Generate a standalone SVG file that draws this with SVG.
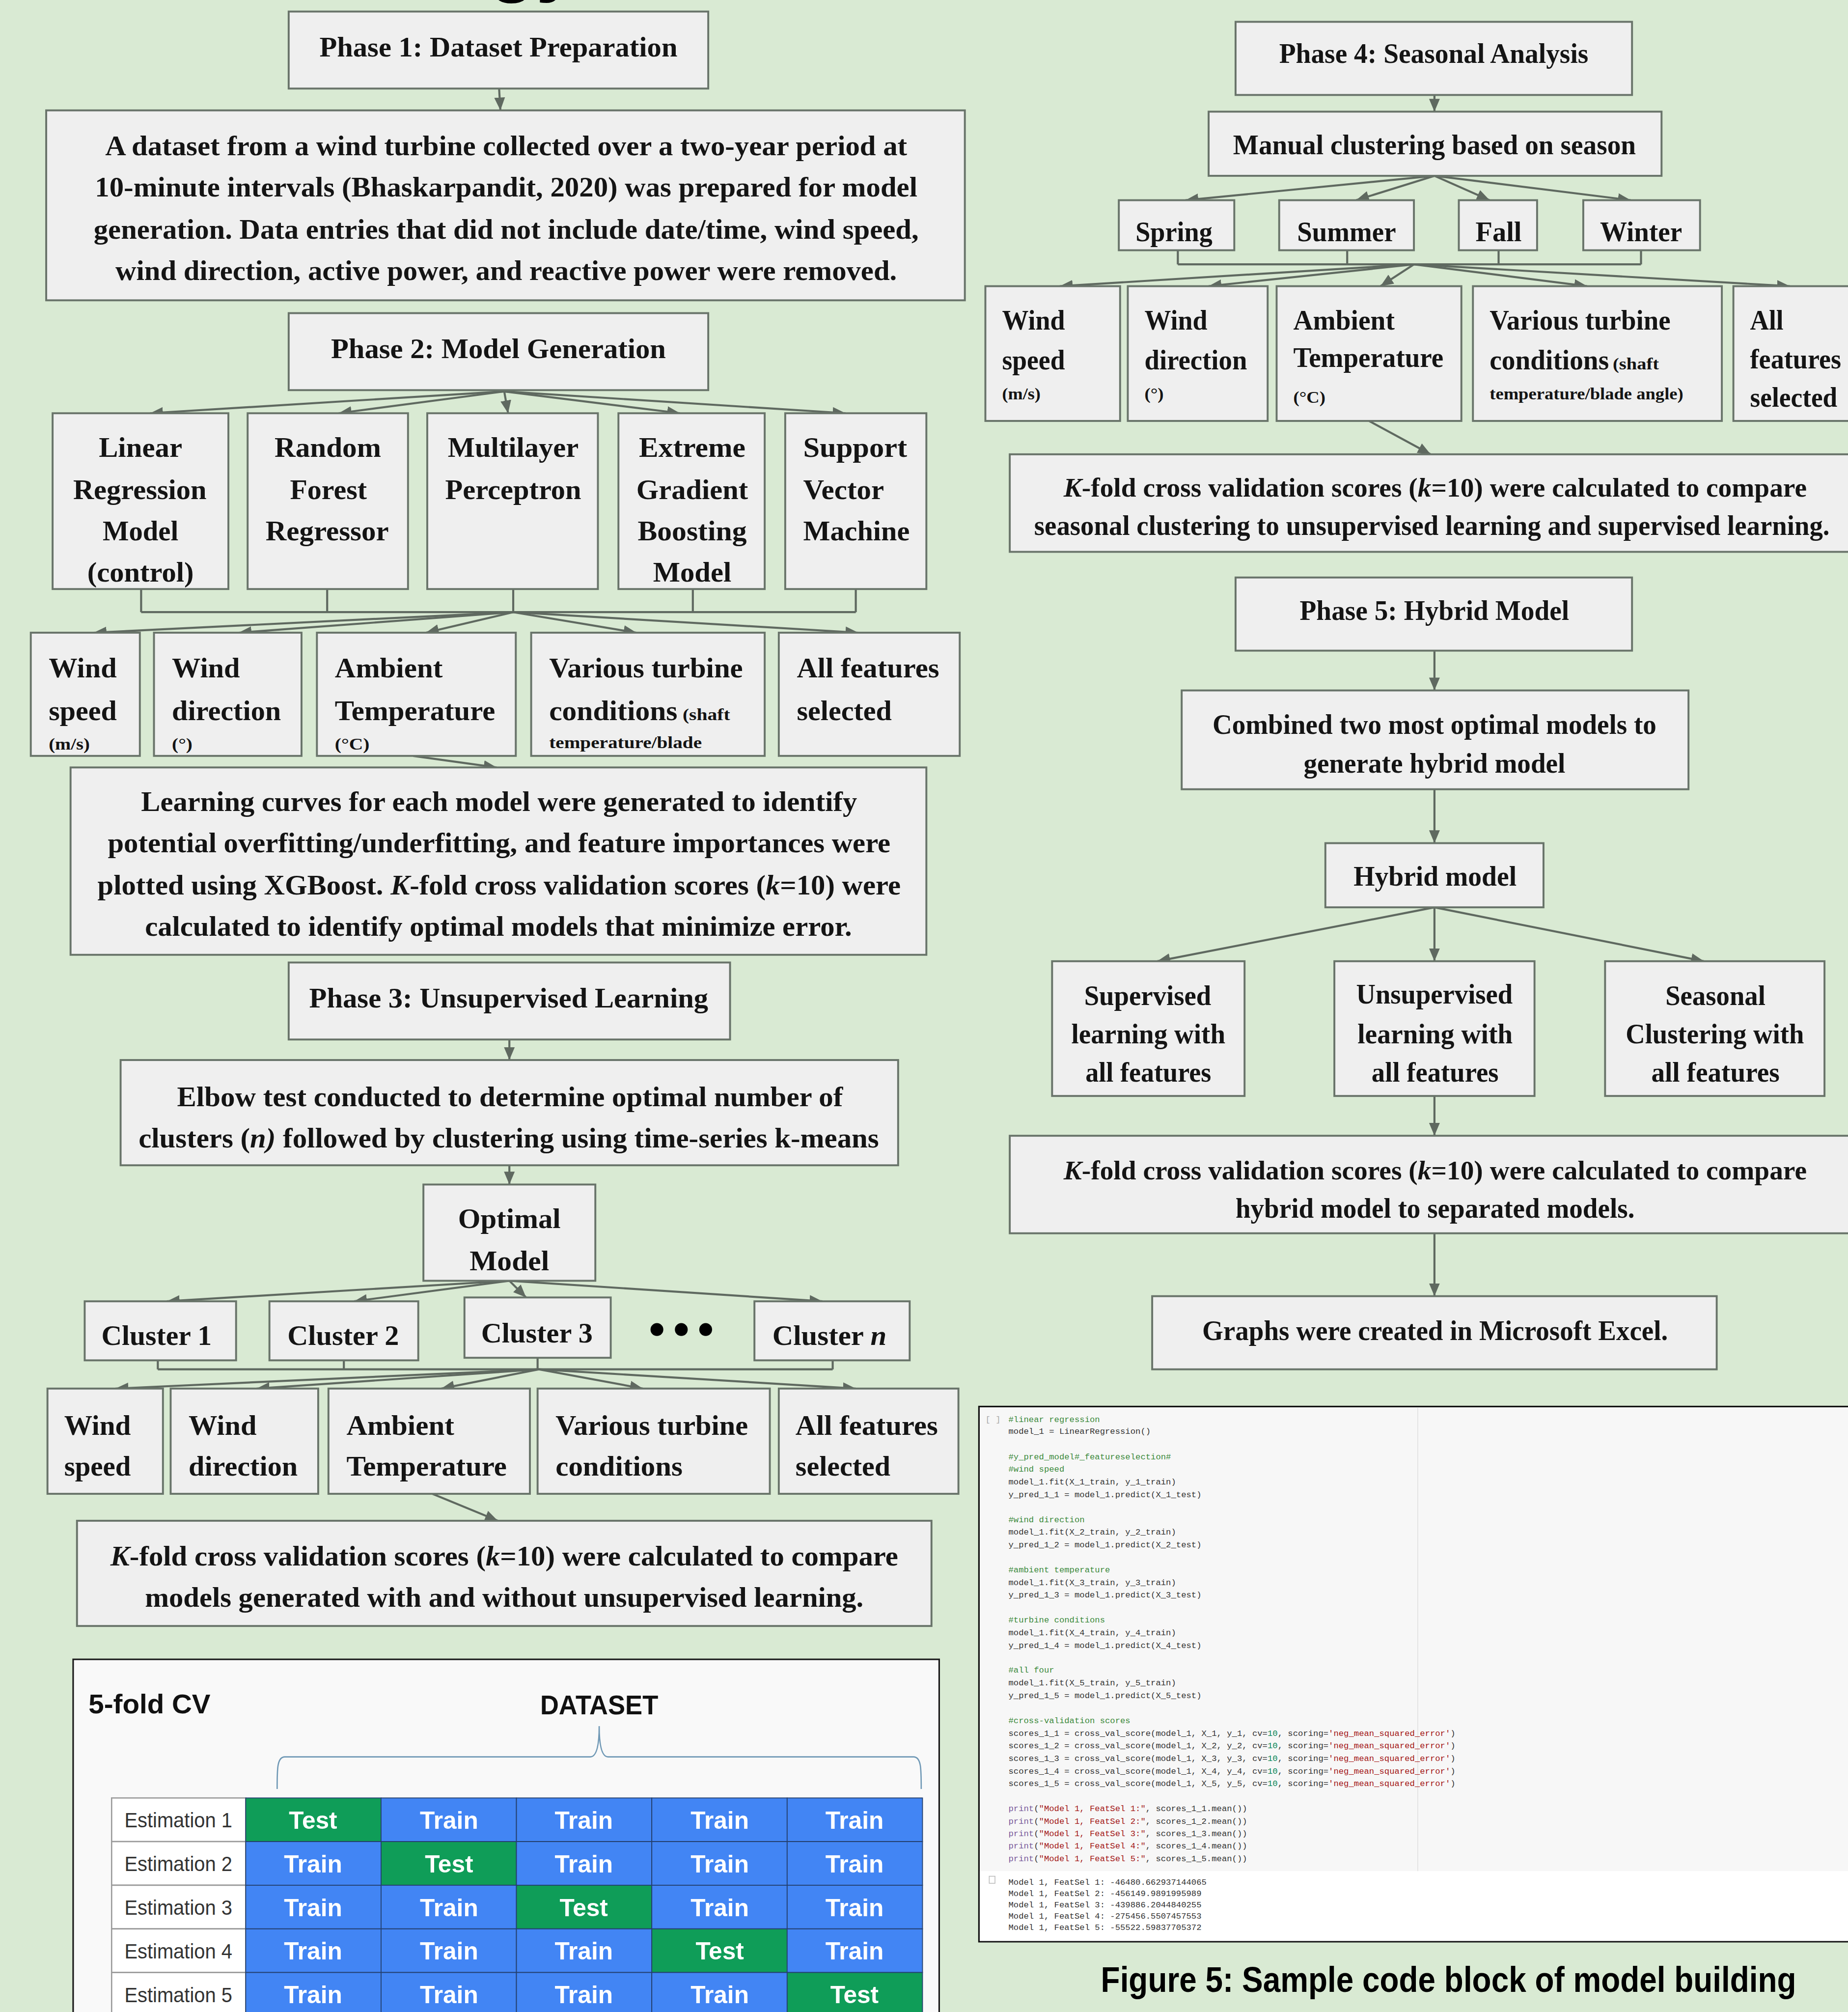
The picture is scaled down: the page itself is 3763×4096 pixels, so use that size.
<svg xmlns="http://www.w3.org/2000/svg" width="3763" height="4096" viewBox="0 0 3763 4096">
<defs>
<style>
.bx{fill:#efefef;stroke:#69746a;stroke-width:1.5}
.t{font-family:"Liberation Serif",serif;font-weight:bold;font-size:22px;fill:#141414}
.sm{font-size:13px}
.it{font-style:italic}
.cn{stroke:#5f6960;stroke-width:1.6;fill:none;marker-end:url(#ah)}
.ln{stroke:#5f6960;stroke-width:1.6;fill:none}
.est{font-family:"Liberation Sans",Arial,sans-serif;font-size:16px;fill:#333}
.cell{font-family:"Liberation Sans",Arial,sans-serif;font-size:19px;font-weight:bold;fill:#fff;text-anchor:middle}
.code{font-family:"Liberation Mono","DejaVu Sans Mono",monospace;font-size:6.6px;fill:#333}
.cm{fill:#3c8a3c}
.st{fill:#a31515}
.nu{fill:#098658}
.pr{fill:#7a5a9a}
</style>
<marker id="ah" markerUnits="userSpaceOnUse" markerWidth="10" markerHeight="10" viewBox="0 0 10 10" refX="10" refY="5" orient="auto">
<path d="M0,0.8 L10,5 L0,9.2 Z" fill="#5f6960"/>
</marker>
</defs>
<rect x="0" y="0" width="3763" height="4096" fill="#d9ead3"/>
<g transform="scale(2.6126)">
<text x="381" y="-10" font-family="Liberation Sans,Arial,sans-serif" font-weight="bold" font-size="60" fill="#000">gy</text>

<g id="connectors">
<path class="cn" d="M389,69 L390,86"/>
<path class="cn" d="M393,305 L117,322"/>
<path class="cn" d="M393,305 L264,322"/>
<path class="cn" d="M393,305 L396,322"/>
<path class="cn" d="M393,305 L530,322"/>
<path class="cn" d="M393,305 L659,322"/>
<path class="ln" d="M110,459 V477 M255,459 V477 M400,459 V477 M540,459 V477 M667,459 V477 M110,477 H667"/>
<path class="cn" d="M400,477 L73,493"/>
<path class="cn" d="M400,477 L186,493"/>
<path class="cn" d="M400,477 L332,493"/>
<path class="cn" d="M400,477 L496,493"/>
<path class="cn" d="M400,477 L669,493"/>
<path class="cn" d="M322,589 L387,598"/>
<path class="cn" d="M397,810 L397,826"/>
<path class="cn" d="M397,908 L397,923"/>
<path class="cn" d="M397,998 L130,1014"/>
<path class="cn" d="M397,998 L276,1014"/>
<path class="cn" d="M397,998 L410,1011"/>
<path class="cn" d="M397,998 L641,1014"/>
<path class="ln" d="M123,1060 V1067 M268,1060 V1067 M419,1058 V1067 M649,1060 V1067 M123,1067 H649"/>
<path class="cn" d="M420,1067 L90,1082"/>
<path class="cn" d="M420,1067 L200,1082"/>
<path class="cn" d="M420,1067 L344,1082"/>
<path class="cn" d="M420,1067 L501,1082"/>
<path class="cn" d="M420,1067 L667,1082"/>
<path class="cn" d="M337,1164 L388,1185"/>
<path class="cn" d="M1118,74 L1118,87"/>
<path class="cn" d="M1118,137 L924,156"/>
<path class="cn" d="M1118,137 L1057,156"/>
<path class="cn" d="M1118,137 L1161,156"/>
<path class="cn" d="M1118,137 L1271,156"/>
<path class="ln" d="M918,195 V206 M1050,195 V206 M1168,195 V206 M1279,195 V206 M918,206 H1279"/>
<path class="cn" d="M1102,206 L826,223"/>
<path class="cn" d="M1102,206 L942,223"/>
<path class="cn" d="M1102,206 L1076,223"/>
<path class="cn" d="M1102,206 L1237,223"/>
<path class="cn" d="M1102,206 L1395,223"/>
<path class="cn" d="M1067,328 L1115,354"/>
<path class="cn" d="M1118,507 L1118,538"/>
<path class="cn" d="M1118,615 L1118,657"/>
<path class="cn" d="M1118,707 L902,749"/>
<path class="cn" d="M1118,707 L1118,749"/>
<path class="cn" d="M1118,707 L1328,749"/>
<path class="cn" d="M1118,854 L1118,885"/>
<path class="cn" d="M1118,961 L1118,1010"/>
</g>

<g id="phase1"><rect class="bx" x="225" y="9" width="327" height="60"/>
<text class="t" x="249" y="44" textLength="279" lengthAdjust="spacingAndGlyphs">Phase 1: Dataset Preparation</text></g>
<g id="dataset"><rect class="bx" x="36" y="86" width="716" height="148"/>
<text class="t" x="82" y="121" textLength="625" lengthAdjust="spacingAndGlyphs">A dataset from a wind turbine collected over a two-year period at</text>
<text class="t" x="74" y="153" textLength="641" lengthAdjust="spacingAndGlyphs">10-minute intervals (Bhaskarpandit, 2020) was prepared for model</text>
<text class="t" x="73" y="186" textLength="643" lengthAdjust="spacingAndGlyphs">generation. Data entries that did not include date/time, wind speed,</text>
<text class="t" x="90" y="218" textLength="609" lengthAdjust="spacingAndGlyphs">wind direction, active power, and reactive power were removed.</text></g>
<g id="phase2"><rect class="bx" x="225" y="244" width="327" height="60"/>
<text class="t" x="258" y="279" textLength="261" lengthAdjust="spacingAndGlyphs">Phase 2: Model Generation</text></g>
<g id="m_linear"><rect class="bx" x="41" y="322" width="137" height="137"/>
<text class="t" x="77" y="356" textLength="65" lengthAdjust="spacingAndGlyphs">Linear</text>
<text class="t" x="57" y="389" textLength="104" lengthAdjust="spacingAndGlyphs">Regression</text>
<text class="t" x="80" y="421" textLength="59" lengthAdjust="spacingAndGlyphs">Model</text>
<text class="t" x="68" y="453" textLength="83" lengthAdjust="spacingAndGlyphs">(control)</text></g>
<g id="m_rf"><rect class="bx" x="193" y="322" width="125" height="137"/>
<text class="t" x="214" y="356" textLength="83" lengthAdjust="spacingAndGlyphs">Random</text>
<text class="t" x="226" y="389" textLength="60" lengthAdjust="spacingAndGlyphs">Forest</text>
<text class="t" x="207" y="421" textLength="96" lengthAdjust="spacingAndGlyphs">Regressor</text></g>
<g id="m_mlp"><rect class="bx" x="333" y="322" width="133" height="137"/>
<text class="t" x="349" y="356" textLength="102" lengthAdjust="spacingAndGlyphs">Multilayer</text>
<text class="t" x="347" y="389" textLength="106" lengthAdjust="spacingAndGlyphs">Perceptron</text></g>
<g id="m_xgb"><rect class="bx" x="482" y="322" width="114" height="137"/>
<text class="t" x="498" y="356" textLength="83" lengthAdjust="spacingAndGlyphs">Extreme</text>
<text class="t" x="496" y="389" textLength="87" lengthAdjust="spacingAndGlyphs">Gradient</text>
<text class="t" x="497" y="421" textLength="85" lengthAdjust="spacingAndGlyphs">Boosting</text>
<text class="t" x="509" y="453" textLength="61" lengthAdjust="spacingAndGlyphs">Model</text></g>
<g id="m_svm"><rect class="bx" x="612" y="322" width="110" height="137"/>
<text class="t" x="626" y="356" textLength="81" lengthAdjust="spacingAndGlyphs">Support</text>
<text class="t" x="626" y="389" textLength="63" lengthAdjust="spacingAndGlyphs">Vector</text>
<text class="t" x="626" y="421" textLength="83" lengthAdjust="spacingAndGlyphs">Machine</text></g>

<g id="f1_ws"><rect class="bx" x="24" y="493" width="85" height="96"/>
<text class="t" x="38" y="528" textLength="53" lengthAdjust="spacingAndGlyphs">Wind</text>
<text class="t" x="38" y="561" textLength="53" lengthAdjust="spacingAndGlyphs">speed</text>
<text class="t sm" x="38" y="584" textLength="32" lengthAdjust="spacingAndGlyphs">(m/s)</text></g>
<g id="f1_wd"><rect class="bx" x="120" y="493" width="115" height="96"/>
<text class="t" x="134" y="528" textLength="53" lengthAdjust="spacingAndGlyphs">Wind</text>
<text class="t" x="134" y="561" textLength="85" lengthAdjust="spacingAndGlyphs">direction</text>
<text class="t sm" x="134" y="584" textLength="16" lengthAdjust="spacingAndGlyphs">(°)</text></g>
<g id="f1_at"><rect class="bx" x="247" y="493" width="155" height="96"/>
<text class="t" x="261" y="528" textLength="84" lengthAdjust="spacingAndGlyphs">Ambient</text>
<text class="t" x="261" y="561" textLength="125" lengthAdjust="spacingAndGlyphs">Temperature</text>
<text class="t sm" x="261" y="584" textLength="27" lengthAdjust="spacingAndGlyphs">(°C)</text></g>
<g id="f1_vt"><rect class="bx" x="414" y="493" width="182" height="96"/>
<text class="t" x="428" y="528" textLength="151" lengthAdjust="spacingAndGlyphs">Various turbine</text>
<text class="t" x="428" y="561" textLength="100" lengthAdjust="spacingAndGlyphs">conditions</text>
<text class="t sm" x="532" y="561" textLength="37" lengthAdjust="spacingAndGlyphs">(shaft</text>
<text class="t sm" x="428" y="583" textLength="119" lengthAdjust="spacingAndGlyphs">temperature/blade</text></g>
<g id="f1_all"><rect class="bx" x="607" y="493" width="141" height="96"/>
<text class="t" x="621" y="528" textLength="111" lengthAdjust="spacingAndGlyphs">All features</text>
<text class="t" x="621" y="561" textLength="74" lengthAdjust="spacingAndGlyphs">selected</text></g>

<g id="learning"><rect class="bx" x="55" y="598" width="667" height="146"/>
<text class="t" x="110" y="632" textLength="558" lengthAdjust="spacingAndGlyphs">Learning curves for each model were generated to identify</text>
<text class="t" x="84" y="664" textLength="610" lengthAdjust="spacingAndGlyphs">potential overfitting/underfitting, and feature importances were</text>
<text class="t" x="76" y="697" textLength="626" lengthAdjust="spacingAndGlyphs">plotted using XGBoost. <tspan class="it">K</tspan>-fold cross validation scores (<tspan class="it">k</tspan>=10) were</text>
<text class="t" x="113" y="729" textLength="551" lengthAdjust="spacingAndGlyphs">calculated to identify optimal models that minimize error.</text></g>
<g id="phase3"><rect class="bx" x="225" y="750" width="344" height="60"/>
<text class="t" x="241" y="785" textLength="311" lengthAdjust="spacingAndGlyphs">Phase 3: Unsupervised Learning</text></g>
<g id="elbow"><rect class="bx" x="94" y="826" width="606" height="82"/>
<text class="t" x="138" y="862" textLength="519" lengthAdjust="spacingAndGlyphs">Elbow test conducted to determine optimal number of</text>
<text class="t" x="108" y="894" textLength="577" lengthAdjust="spacingAndGlyphs">clusters (<tspan class="it">n)</tspan> followed by clustering using time-series k-means</text></g>
<g id="optimal"><rect class="bx" x="330" y="923" width="134" height="75"/>
<text class="t" x="357" y="957" textLength="80" lengthAdjust="spacingAndGlyphs">Optimal</text>
<text class="t" x="366" y="990" textLength="62" lengthAdjust="spacingAndGlyphs">Model</text></g>
<g id="cluster1"><rect class="bx" x="66" y="1014" width="118" height="46"/>
<text class="t" x="79" y="1048" textLength="86" lengthAdjust="spacingAndGlyphs">Cluster 1</text></g>
<g id="cluster2"><rect class="bx" x="210" y="1014" width="116" height="46"/>
<text class="t" x="224" y="1048" textLength="87" lengthAdjust="spacingAndGlyphs">Cluster 2</text></g>
<g id="cluster3"><rect class="bx" x="362" y="1011" width="114" height="47"/>
<text class="t" x="375" y="1046" textLength="87" lengthAdjust="spacingAndGlyphs">Cluster 3</text></g>
<g id="dots"><circle cx="512" cy="1036" r="5" fill="#000"/><circle cx="531" cy="1036" r="5" fill="#000"/><circle cx="550" cy="1036" r="5" fill="#000"/></g>
<g id="clustern"><rect class="bx" x="588" y="1014" width="121" height="46"/>
<text class="t" x="602" y="1048" textLength="89" lengthAdjust="spacingAndGlyphs">Cluster <tspan class="it">n</tspan></text></g>

<g id="f2_ws"><rect class="bx" x="37" y="1082" width="90" height="82"/>
<text class="t" x="50" y="1118" textLength="52" lengthAdjust="spacingAndGlyphs">Wind</text>
<text class="t" x="50" y="1150" textLength="52" lengthAdjust="spacingAndGlyphs">speed</text></g>
<g id="f2_wd"><rect class="bx" x="133" y="1082" width="115" height="82"/>
<text class="t" x="147" y="1118" textLength="53" lengthAdjust="spacingAndGlyphs">Wind</text>
<text class="t" x="147" y="1150" textLength="85" lengthAdjust="spacingAndGlyphs">direction</text></g>
<g id="f2_at"><rect class="bx" x="256" y="1082" width="157" height="82"/>
<text class="t" x="270" y="1118" textLength="84" lengthAdjust="spacingAndGlyphs">Ambient</text>
<text class="t" x="270" y="1150" textLength="125" lengthAdjust="spacingAndGlyphs">Temperature</text></g>
<g id="f2_vt"><rect class="bx" x="419" y="1082" width="181" height="82"/>
<text class="t" x="433" y="1118" textLength="150" lengthAdjust="spacingAndGlyphs">Various turbine</text>
<text class="t" x="433" y="1150" textLength="99" lengthAdjust="spacingAndGlyphs">conditions</text></g>
<g id="f2_all"><rect class="bx" x="607" y="1082" width="140" height="82"/>
<text class="t" x="620" y="1118" textLength="111" lengthAdjust="spacingAndGlyphs">All features</text>
<text class="t" x="620" y="1150" textLength="74" lengthAdjust="spacingAndGlyphs">selected</text></g>
<g id="kfold_left"><rect class="bx" x="60" y="1185" width="666" height="82"/>
<text class="t" x="86" y="1220" textLength="614" lengthAdjust="spacingAndGlyphs"><tspan class="it">K</tspan>-fold cross validation scores (<tspan class="it">k</tspan>=10) were calculated to compare</text>
<text class="t" x="113" y="1252" textLength="560" lengthAdjust="spacingAndGlyphs">models generated with and without unsupervised learning.</text></g>

<g id="cv_panel">
<rect x="57" y="1293" width="675" height="290" fill="#f9f9f9" stroke="#1a1a1a" stroke-width="1.2"/>
<text x="69" y="1335" font-family="Liberation Sans,Arial,sans-serif" font-weight="bold" font-size="21" fill="#111" textLength="95" lengthAdjust="spacingAndGlyphs">5-fold CV</text>
<text x="421" y="1336" font-family="Liberation Sans,Arial,sans-serif" font-weight="bold" font-size="21" fill="#111" textLength="92" lengthAdjust="spacingAndGlyphs">DATASET</text>
<path d="M216,1394 C216,1378 216,1369 222,1369 L460,1369 C465,1369 467,1360 467,1345 C467,1360 469,1369 474,1369 L712,1369 C718,1369 718,1378 718,1394" fill="none" stroke="#6f98b5" stroke-width="1"/>
<g stroke="#9a9a9a" stroke-width="1" fill="#fff">
<rect x="87" y="1401" width="104.5" height="34"/><rect x="87" y="1435" width="104.5" height="34"/><rect x="87" y="1469" width="104.5" height="34"/><rect x="87" y="1503" width="104.5" height="34"/><rect x="87" y="1537" width="104.5" height="34"/>
</g>
<g stroke="#24406e" stroke-width="0.7">
<rect x="191.5" y="1401" width="105.5" height="34" fill="#0f9d58"/><rect x="297" y="1401" width="105.5" height="34" fill="#4285f4"/><rect x="402.5" y="1401" width="105.5" height="34" fill="#4285f4"/><rect x="508" y="1401" width="105.5" height="34" fill="#4285f4"/><rect x="613.5" y="1401" width="105.5" height="34" fill="#4285f4"/>
<rect x="191.5" y="1435" width="105.5" height="34" fill="#4285f4"/><rect x="297" y="1435" width="105.5" height="34" fill="#0f9d58"/><rect x="402.5" y="1435" width="105.5" height="34" fill="#4285f4"/><rect x="508" y="1435" width="105.5" height="34" fill="#4285f4"/><rect x="613.5" y="1435" width="105.5" height="34" fill="#4285f4"/>
<rect x="191.5" y="1469" width="105.5" height="34" fill="#4285f4"/><rect x="297" y="1469" width="105.5" height="34" fill="#4285f4"/><rect x="402.5" y="1469" width="105.5" height="34" fill="#0f9d58"/><rect x="508" y="1469" width="105.5" height="34" fill="#4285f4"/><rect x="613.5" y="1469" width="105.5" height="34" fill="#4285f4"/>
<rect x="191.5" y="1503" width="105.5" height="34" fill="#4285f4"/><rect x="297" y="1503" width="105.5" height="34" fill="#4285f4"/><rect x="402.5" y="1503" width="105.5" height="34" fill="#4285f4"/><rect x="508" y="1503" width="105.5" height="34" fill="#0f9d58"/><rect x="613.5" y="1503" width="105.5" height="34" fill="#4285f4"/>
<rect x="191.5" y="1537" width="105.5" height="34" fill="#4285f4"/><rect x="297" y="1537" width="105.5" height="34" fill="#4285f4"/><rect x="402.5" y="1537" width="105.5" height="34" fill="#4285f4"/><rect x="508" y="1537" width="105.5" height="34" fill="#4285f4"/><rect x="613.5" y="1537" width="105.5" height="34" fill="#0f9d58"/>
</g>
<text class="est" x="97" y="1424" textLength="84" lengthAdjust="spacingAndGlyphs">Estimation 1</text>
<text class="est" x="97" y="1458" textLength="84" lengthAdjust="spacingAndGlyphs">Estimation 2</text>
<text class="est" x="97" y="1492" textLength="84" lengthAdjust="spacingAndGlyphs">Estimation 3</text>
<text class="est" x="97" y="1526" textLength="84" lengthAdjust="spacingAndGlyphs">Estimation 4</text>
<text class="est" x="97" y="1560" textLength="84" lengthAdjust="spacingAndGlyphs">Estimation 5</text>
<text class="cell" x="244" y="1425">Test</text><text class="cell" x="350" y="1425">Train</text><text class="cell" x="455" y="1425">Train</text><text class="cell" x="561" y="1425">Train</text><text class="cell" x="666" y="1425">Train</text>
<text class="cell" x="244" y="1459">Train</text><text class="cell" x="350" y="1459">Test</text><text class="cell" x="455" y="1459">Train</text><text class="cell" x="561" y="1459">Train</text><text class="cell" x="666" y="1459">Train</text>
<text class="cell" x="244" y="1493">Train</text><text class="cell" x="350" y="1493">Train</text><text class="cell" x="455" y="1493">Test</text><text class="cell" x="561" y="1493">Train</text><text class="cell" x="666" y="1493">Train</text>
<text class="cell" x="244" y="1527">Train</text><text class="cell" x="350" y="1527">Train</text><text class="cell" x="455" y="1527">Train</text><text class="cell" x="561" y="1527">Test</text><text class="cell" x="666" y="1527">Train</text>
<text class="cell" x="244" y="1561">Train</text><text class="cell" x="350" y="1561">Train</text><text class="cell" x="455" y="1561">Train</text><text class="cell" x="561" y="1561">Train</text><text class="cell" x="666" y="1561">Test</text>
</g>

<g id="phase4"><rect class="bx" x="963" y="17" width="309" height="57"/>
<text class="t" x="997" y="49" textLength="241" lengthAdjust="spacingAndGlyphs">Phase 4: Seasonal Analysis</text></g>
<g id="manual"><rect class="bx" x="942" y="87" width="353" height="50"/>
<text class="t" x="961" y="120" textLength="314" lengthAdjust="spacingAndGlyphs">Manual clustering based on season</text></g>
<g id="spring"><rect class="bx" x="872" y="156" width="90" height="39"/>
<text class="t" x="885" y="188" textLength="60" lengthAdjust="spacingAndGlyphs">Spring</text></g>
<g id="summer"><rect class="bx" x="997" y="156" width="105" height="39"/>
<text class="t" x="1011" y="188" textLength="77" lengthAdjust="spacingAndGlyphs">Summer</text></g>
<g id="fall"><rect class="bx" x="1137" y="156" width="61" height="39"/>
<text class="t" x="1150" y="188" textLength="36" lengthAdjust="spacingAndGlyphs">Fall</text></g>
<g id="winter"><rect class="bx" x="1234" y="156" width="91" height="39"/>
<text class="t" x="1247" y="188" textLength="64" lengthAdjust="spacingAndGlyphs">Winter</text></g>

<g id="r_ws"><rect class="bx" x="768" y="223" width="105" height="105"/>
<text class="t" x="781" y="257" textLength="49" lengthAdjust="spacingAndGlyphs">Wind</text>
<text class="t" x="781" y="288" textLength="49" lengthAdjust="spacingAndGlyphs">speed</text>
<text class="t sm" x="781" y="311" textLength="30" lengthAdjust="spacingAndGlyphs">(m/s)</text></g>
<g id="r_wd"><rect class="bx" x="879" y="223" width="109" height="105"/>
<text class="t" x="892" y="257" textLength="49" lengthAdjust="spacingAndGlyphs">Wind</text>
<text class="t" x="892" y="288" textLength="80" lengthAdjust="spacingAndGlyphs">direction</text>
<text class="t sm" x="892" y="311" textLength="15" lengthAdjust="spacingAndGlyphs">(°)</text></g>
<g id="r_at"><rect class="bx" x="995" y="223" width="144" height="105"/>
<text class="t" x="1008" y="257" textLength="79" lengthAdjust="spacingAndGlyphs">Ambient</text>
<text class="t" x="1008" y="286" textLength="117" lengthAdjust="spacingAndGlyphs">Temperature</text>
<text class="t sm" x="1008" y="314" textLength="25" lengthAdjust="spacingAndGlyphs">(°C)</text></g>
<g id="r_vt"><rect class="bx" x="1148" y="223" width="194" height="105"/>
<text class="t" x="1161" y="257" textLength="141" lengthAdjust="spacingAndGlyphs">Various turbine</text>
<text class="t" x="1161" y="288" textLength="93" lengthAdjust="spacingAndGlyphs">conditions</text>
<text class="t sm" x="1257" y="288" textLength="36" lengthAdjust="spacingAndGlyphs">(shaft</text>
<text class="t sm" x="1161" y="311" textLength="151" lengthAdjust="spacingAndGlyphs">temperature/blade angle)</text></g>
<g id="r_all"><rect class="bx" x="1351" y="223" width="100" height="105"/>
<text class="t" x="1364" y="257" textLength="26" lengthAdjust="spacingAndGlyphs">All</text>
<text class="t" x="1364" y="287" textLength="71" lengthAdjust="spacingAndGlyphs">features</text>
<text class="t" x="1364" y="317" textLength="68" lengthAdjust="spacingAndGlyphs">selected</text></g>
<g id="kfold_r1"><rect class="bx" x="787" y="354" width="660" height="76"/>
<text class="t" x="829" y="387" style="font-size:21.2px"><tspan class="it">K</tspan>-fold cross validation scores (<tspan class="it">k</tspan>=10) were calculated to compare</text>
<text class="t" x="806" y="417" textLength="620" lengthAdjust="spacingAndGlyphs">seasonal clustering to unsupervised learning and supervised learning.</text></g>
<g id="phase5"><rect class="bx" x="963" y="450" width="309" height="57"/>
<text class="t" x="1013" y="483" textLength="210" lengthAdjust="spacingAndGlyphs">Phase 5: Hybrid Model</text></g>
<g id="combined"><rect class="bx" x="921" y="538" width="395" height="77"/>
<text class="t" x="945" y="572" textLength="346" lengthAdjust="spacingAndGlyphs">Combined two most optimal models to</text>
<text class="t" x="1016" y="602" textLength="204" lengthAdjust="spacingAndGlyphs">generate hybrid model</text></g>
<g id="hybrid"><rect class="bx" x="1033" y="657" width="170" height="50"/>
<text class="t" x="1055" y="690" textLength="127" lengthAdjust="spacingAndGlyphs">Hybrid model</text></g>
<g id="supervised"><rect class="bx" x="820" y="749" width="150" height="105"/>
<text class="t" x="845" y="783" textLength="99" lengthAdjust="spacingAndGlyphs">Supervised</text>
<text class="t" x="835" y="813" textLength="120" lengthAdjust="spacingAndGlyphs">learning with</text>
<text class="t" x="846" y="843" textLength="98" lengthAdjust="spacingAndGlyphs">all features</text></g>
<g id="unsupervised"><rect class="bx" x="1040" y="749" width="156" height="105"/>
<text class="t" x="1057" y="782" textLength="122" lengthAdjust="spacingAndGlyphs">Unsupervised</text>
<text class="t" x="1058" y="813" textLength="121" lengthAdjust="spacingAndGlyphs">learning with</text>
<text class="t" x="1069" y="843" textLength="99" lengthAdjust="spacingAndGlyphs">all features</text></g>
<g id="seasonal"><rect class="bx" x="1251" y="749" width="171" height="105"/>
<text class="t" x="1298" y="783" textLength="78" lengthAdjust="spacingAndGlyphs">Seasonal</text>
<text class="t" x="1267" y="813" textLength="139" lengthAdjust="spacingAndGlyphs">Clustering with</text>
<text class="t" x="1287" y="843" textLength="100" lengthAdjust="spacingAndGlyphs">all features</text></g>
<g id="kfold_r2"><rect class="bx" x="787" y="885" width="660" height="76"/>
<text class="t" x="829" y="919" style="font-size:21.2px"><tspan class="it">K</tspan>-fold cross validation scores (<tspan class="it">k</tspan>=10) were calculated to compare</text>
<text class="t" x="963" y="949" textLength="311" lengthAdjust="spacingAndGlyphs">hybrid model to separated models.</text></g>
<g id="graphs"><rect class="bx" x="898" y="1010" width="440" height="57"/>
<text class="t" x="937" y="1044" textLength="363" lengthAdjust="spacingAndGlyphs">Graphs were created in Microsoft Excel.</text></g>

<g id="code_block">
<rect x="763" y="1096" width="690" height="417" fill="#f7f7f7" stroke="#111" stroke-width="1.2"/>
<rect x="763.6" y="1458" width="689" height="54.4" fill="#fff"/>
<line x1="1105" y1="1097" x2="1105" y2="1458" stroke="#e0e0e0" stroke-width="0.6"/>
<text class="code" x="768" y="1108" style="fill:#aaa">[ ]</text>
<rect x="771" y="1462" width="4.5" height="5.5" fill="none" stroke="#bbb" stroke-width="0.6"/>
<text class="code" x="786" y="1108"><tspan class="cm">#linear regression</tspan></text>
<text class="code" x="786" y="1117.4">model_1 = LinearRegression()</text>
<text class="code" x="786" y="1137.2"><tspan class="cm">#y_pred_model#_featureselection#</tspan></text>
<text class="code" x="786" y="1146.8"><tspan class="cm">#wind speed</tspan></text>
<text class="code" x="786" y="1156.7">model_1.fit(X_1_train, y_1_train)</text>
<text class="code" x="786" y="1166.6">y_pred_1_1 = model_1.predict(X_1_test)</text>
<text class="code" x="786" y="1186.1"><tspan class="cm">#wind direction</tspan></text>
<text class="code" x="786" y="1195.7">model_1.fit(X_2_train, y_2_train)</text>
<text class="code" x="786" y="1205.6">y_pred_1_2 = model_1.predict(X_2_test)</text>
<text class="code" x="786" y="1225.1"><tspan class="cm">#ambient temperature</tspan></text>
<text class="code" x="786" y="1235">model_1.fit(X_3_train, y_3_train)</text>
<text class="code" x="786" y="1244.9">y_pred_1_3 = model_1.predict(X_3_test)</text>
<text class="code" x="786" y="1264.4"><tspan class="cm">#turbine conditions</tspan></text>
<text class="code" x="786" y="1274.3">model_1.fit(X_4_train, y_4_train)</text>
<text class="code" x="786" y="1284.2">y_pred_1_4 = model_1.predict(X_4_test)</text>
<text class="code" x="786" y="1303.4"><tspan class="cm">#all four</tspan></text>
<text class="code" x="786" y="1313.3">model_1.fit(X_5_train, y_5_train)</text>
<text class="code" x="786" y="1323.2">y_pred_1_5 = model_1.predict(X_5_test)</text>
<text class="code" x="786" y="1342.7"><tspan class="cm">#cross-validation scores</tspan></text>
<text class="code" x="786" y="1352.6">scores_1_1 = cross_val_score(model_1, X_1, y_1, cv=<tspan class="nu">10</tspan>, scoring=<tspan class="st">'neg_mean_squared_error'</tspan>)</text>
<text class="code" x="786" y="1362.2">scores_1_2 = cross_val_score(model_1, X_2, y_2, cv=<tspan class="nu">10</tspan>, scoring=<tspan class="st">'neg_mean_squared_error'</tspan>)</text>
<text class="code" x="786" y="1372.1">scores_1_3 = cross_val_score(model_1, X_3, y_3, cv=<tspan class="nu">10</tspan>, scoring=<tspan class="st">'neg_mean_squared_error'</tspan>)</text>
<text class="code" x="786" y="1382">scores_1_4 = cross_val_score(model_1, X_4, y_4, cv=<tspan class="nu">10</tspan>, scoring=<tspan class="st">'neg_mean_squared_error'</tspan>)</text>
<text class="code" x="786" y="1391.9">scores_1_5 = cross_val_score(model_1, X_5, y_5, cv=<tspan class="nu">10</tspan>, scoring=<tspan class="st">'neg_mean_squared_error'</tspan>)</text>
<text class="code" x="786" y="1411.1"><tspan class="pr">print</tspan>(<tspan class="st">"Model 1, FeatSel 1:"</tspan>, scores_1_1.mean())</text>
<text class="code" x="786" y="1421"><tspan class="pr">print</tspan>(<tspan class="st">"Model 1, FeatSel 2:"</tspan>, scores_1_2.mean())</text>
<text class="code" x="786" y="1430.9"><tspan class="pr">print</tspan>(<tspan class="st">"Model 1, FeatSel 3:"</tspan>, scores_1_3.mean())</text>
<text class="code" x="786" y="1440.5"><tspan class="pr">print</tspan>(<tspan class="st">"Model 1, FeatSel 4:"</tspan>, scores_1_4.mean())</text>
<text class="code" x="786" y="1450.4"><tspan class="pr">print</tspan>(<tspan class="st">"Model 1, FeatSel 5:"</tspan>, scores_1_5.mean())</text>
<text class="code" x="786" y="1468.6">Model 1, FeatSel 1: -46480.662937144065</text>
<text class="code" x="786" y="1477.6">Model 1, FeatSel 2: -456149.9891995989</text>
<text class="code" x="786" y="1486.3">Model 1, FeatSel 3: -439886.2044840255</text>
<text class="code" x="786" y="1495.2">Model 1, FeatSel 4: -275456.5507457553</text>
<text class="code" x="786" y="1503.9">Model 1, FeatSel 5: -55522.59837705372</text>
</g>
<text x="858" y="1552" font-family="Liberation Sans,Arial,sans-serif" font-weight="bold" font-size="28" fill="#000" textLength="542" lengthAdjust="spacingAndGlyphs">Figure 5: Sample code block of model building</text>
</g>
</svg>
